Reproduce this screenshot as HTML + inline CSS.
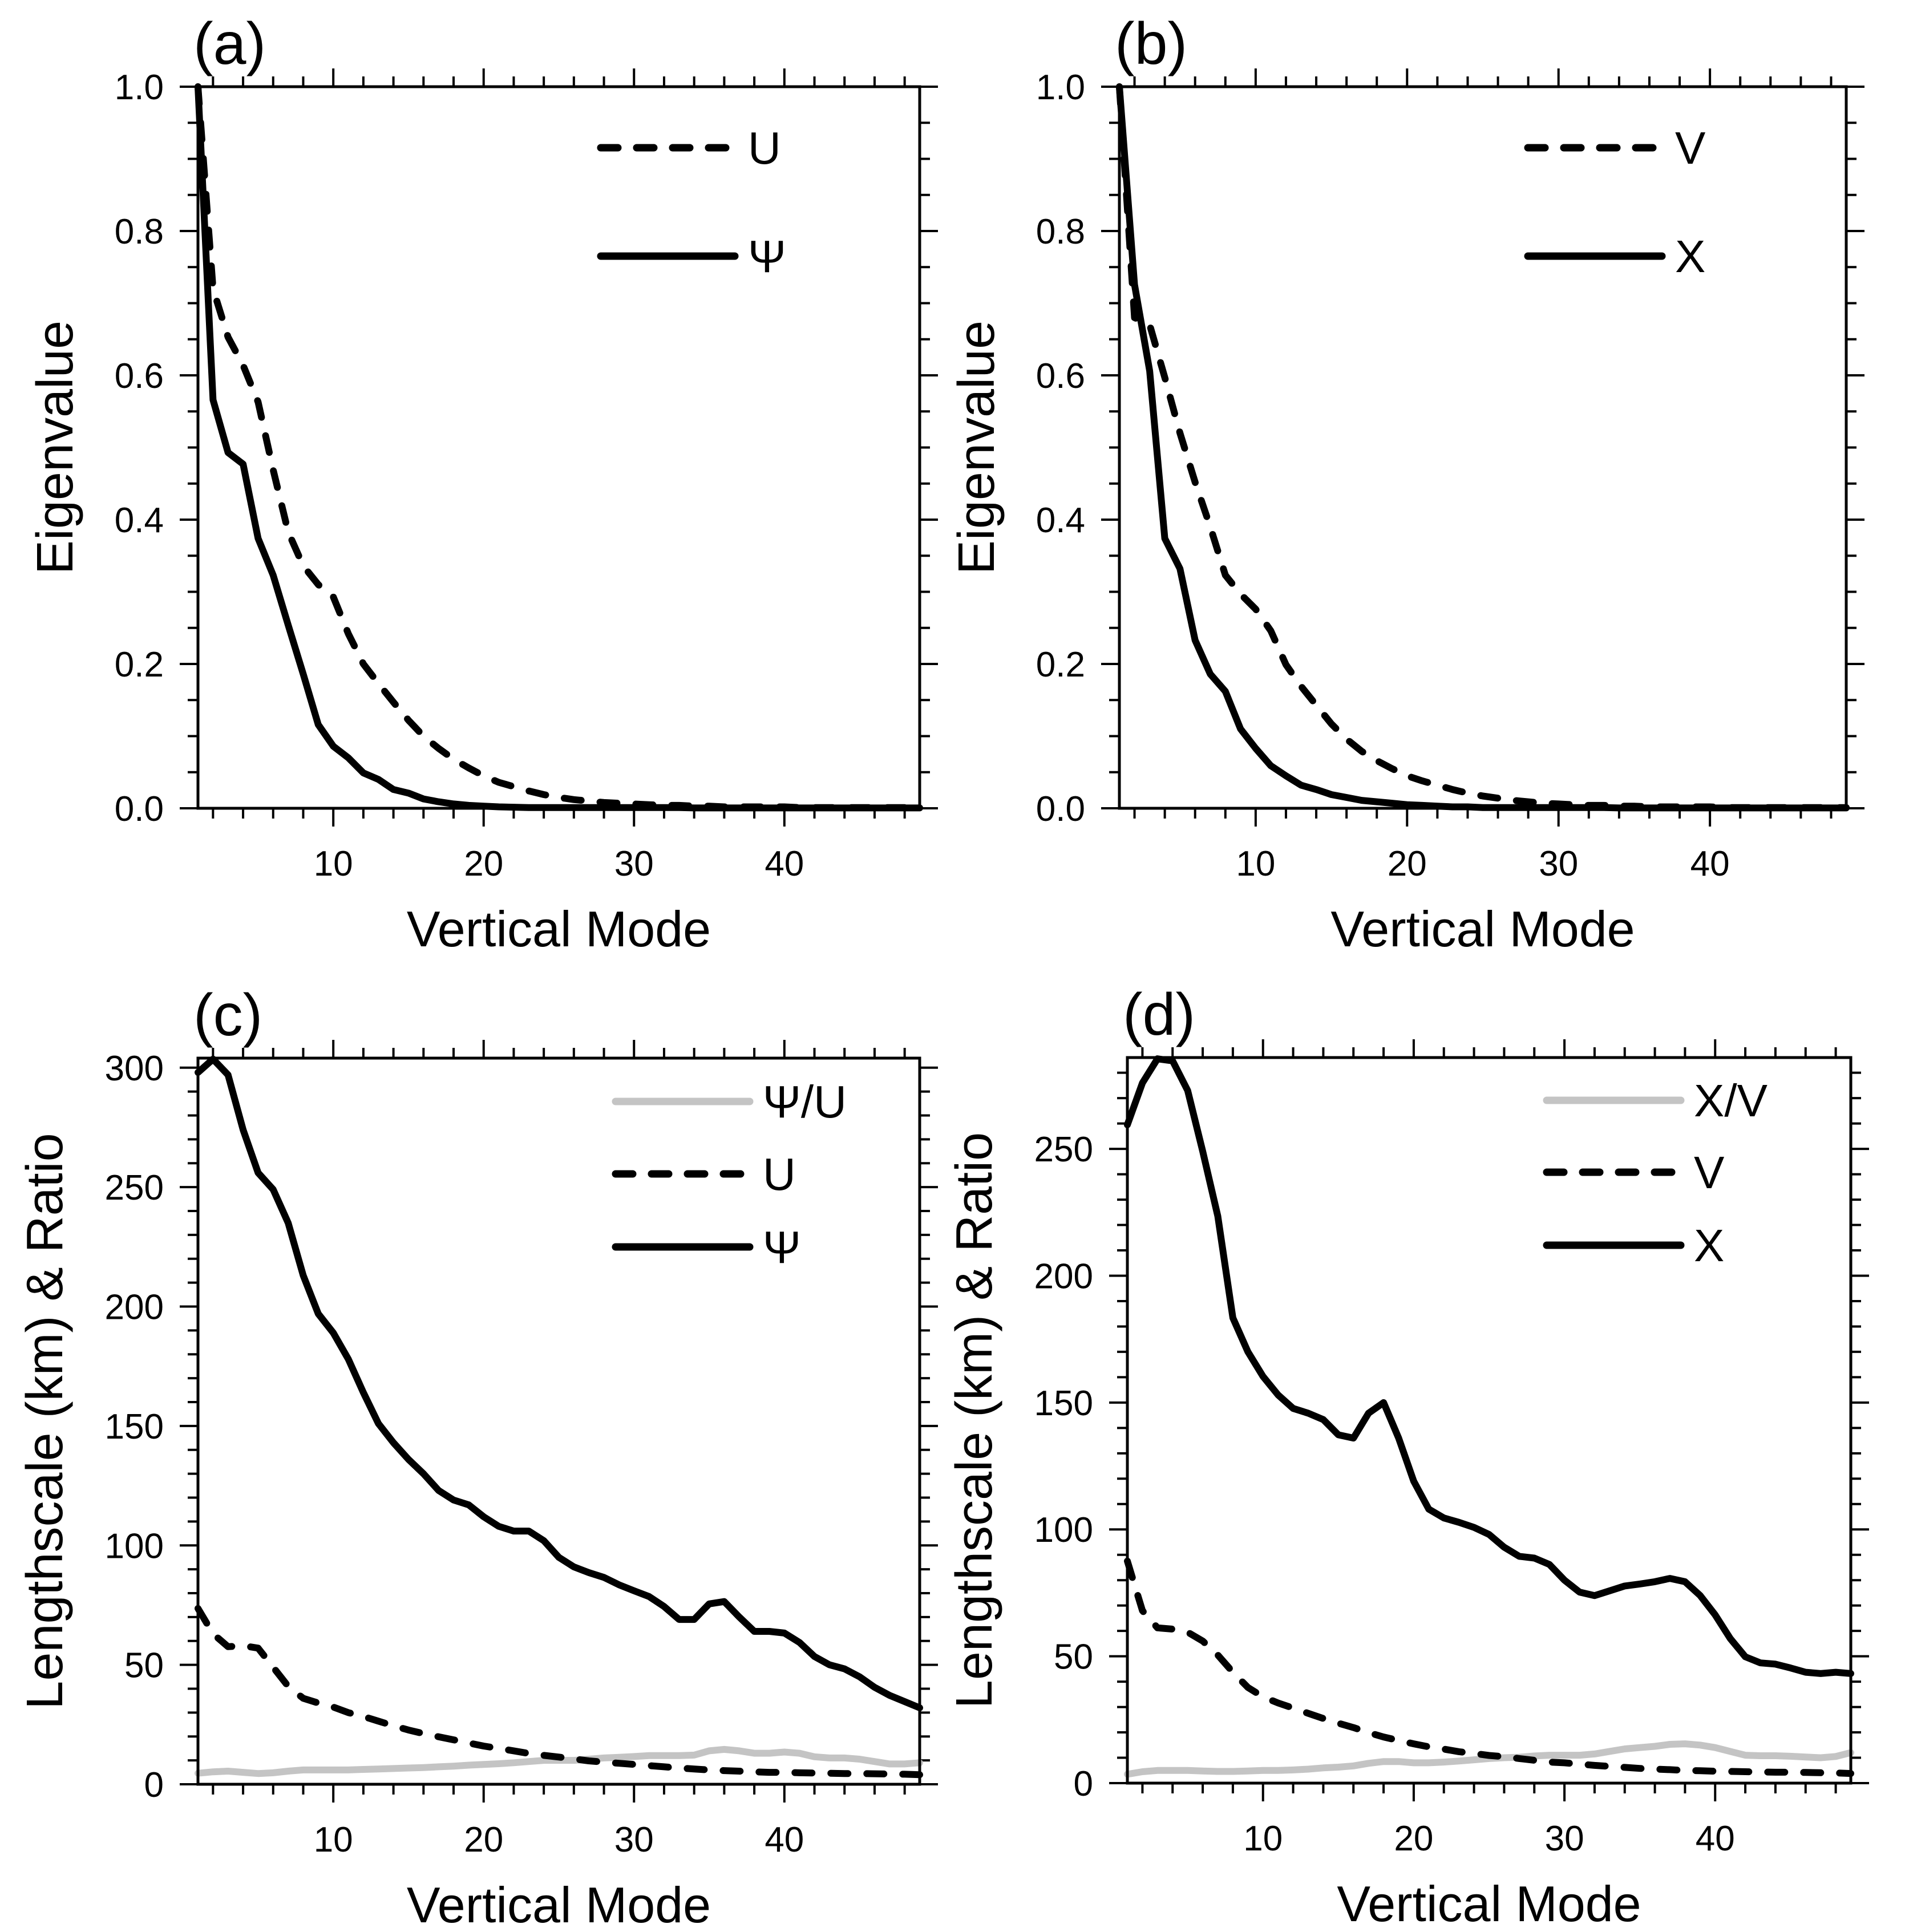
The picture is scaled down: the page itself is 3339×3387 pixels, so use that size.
<!DOCTYPE html>
<html><head><meta charset="utf-8"><style>
html,body{margin:0;padding:0;background:#fff;}
svg{display:block;font-family:"Liberation Sans",Arial,sans-serif;}
</style></head><body>
<svg id="fig" width="3339" height="3387" viewBox="0 0 3339 3387" xmlns="http://www.w3.org/2000/svg"></svg>
<script>
const modes = Array.from({length:49},(_,i)=>i+1);
const aU = [1.0,0.72,0.653,0.614,0.563,0.469,0.383,0.336,0.31,0.293,0.242,0.2,0.173,0.147,0.122,0.1,0.083,0.068,0.056,0.045,0.036,0.03,0.024,0.019,0.015,0.012,0.01,0.008,0.007,0.006,0.005,0.004,0.004,0.003,0.003,0.002,0.002,0.002,0.002,0.002,0.001,0.001,0.001,0.001,0.001,0.001,0.001,0.001,0.001];
const aPsi = [1.0,0.566,0.493,0.477,0.374,0.323,0.254,0.186,0.116,0.086,0.07,0.049,0.04,0.026,0.021,0.013,0.009,0.006,0.004,0.003,0.002,0.0015,0.001,0.001,0.001,0.001,0.001,0.001,0.001,0.001,0.001,0.001,0.001,0.0005,0.0005,0.0005,0.0005,0.0005,0.0005,0.0005,0.0005,0.0005,0.0005,0.0005,0.0005,0.0005,0.0005,0.0005,0.0005];
const bV = [1.0,0.68,0.67,0.597,0.52,0.452,0.39,0.323,0.297,0.276,0.246,0.199,0.169,0.143,0.117,0.096,0.079,0.066,0.055,0.045,0.038,0.032,0.026,0.021,0.017,0.014,0.011,0.009,0.007,0.006,0.005,0.004,0.004,0.003,0.003,0.002,0.002,0.002,0.002,0.002,0.001,0.001,0.001,0.001,0.001,0.001,0.001,0.001,0.001];
const bChi = [1.0,0.726,0.606,0.374,0.332,0.233,0.186,0.162,0.11,0.083,0.059,0.045,0.032,0.026,0.019,0.015,0.011,0.009,0.007,0.005,0.004,0.003,0.002,0.002,0.001,0.001,0.001,0.001,0.001,0.001,0.001,0.001,0.001,0.0005,0.0005,0.0005,0.0005,0.0005,0.0005,0.0005,0.0005,0.0005,0.0005,0.0005,0.0005,0.0005,0.0005,0.0005,0.0005];
const cPsi = [298,303.6,297,274,256,249,235,213,197,189,178,164,151,143,136,130,123,119,117,112,108,106,106,102,95,91,88.6,86.6,83.5,81,78.6,74.4,69,69,75.5,76.5,70,64,64,63.3,59.4,53.5,50,48.3,45,40.6,37.2,34.6,32];
const cU = [73.6,63,57.6,58,57,49,41,36,34,32.3,30,28.4,26.4,24.5,22.7,21.2,19.9,18.6,17.3,16,15,14,12.9,12.1,11.4,10.6,9.8,9.3,8.8,8.3,7.8,7.3,6.8,6.4,6,5.7,5.5,5.2,5,5,4.8,4.7,4.6,4.5,4.5,4.4,4.3,4.2,4];
const cRatio = [4.6,5.2,5.5,5,4.5,4.8,5.5,6,6,6,6,6.2,6.4,6.6,6.8,7,7.3,7.6,8,8.3,8.6,9,9.5,10,10,10,10.5,11,11.3,11.6,12,12,12,12.2,14,14.6,14,13,13,13.5,13,11.5,11,11,10.5,9.5,8.5,8.5,9];
const dChi = [259.5,276,285.5,284.7,273,249,223.5,183.4,170,160.3,153,147.7,145.8,143.3,137.3,136,145.8,150,136,119,108,104.5,102.8,100.8,98,93,89.4,88.7,86.2,80,75.3,73.9,75.8,77.7,78.5,79.4,80.7,79.4,74,66.3,57,49.8,47.4,46.9,45.4,43.7,43.2,43.7,43.2];
const dV = [87.5,68,61.2,60.7,59.5,56,50.5,43.7,37.7,34,31.6,29.6,27.5,25.5,23.6,21.9,19.9,18.2,16.8,15.5,14.3,13.4,12.4,11.7,10.9,10.4,9.7,9,8.3,8,7.5,7,6.6,6.2,5.8,5.5,5.3,5,4.9,4.7,4.6,4.5,4.4,4.3,4.3,4.2,4.1,4,3.8];
const dRatio = [3.5,4.5,5,5,5,4.8,4.6,4.6,4.8,5,5,5.2,5.5,6,6.3,6.8,7.8,8.5,8.5,8,8,8.3,8.7,9.2,9.7,10,10.2,10.7,11,11,11,11.5,12.5,13.5,14,14.5,15.3,15.5,15,14,12.5,11,10.8,10.8,10.6,10.3,10,10.5,12];
const xTicks = [10,20,30,40];
const eigTicks = ["0.0","0.2","0.4","0.6","0.8","1.0"];
const cTicks = ["0","50","100","150","200","250","300"];
const dTicks = ["0","50","100","150","200","250"];

const NS="http://www.w3.org/2000/svg";
const svg=document.getElementById('fig');
function mk(tag,attrs,parent){const e=document.createElementNS(NS,tag);for(const k in attrs)e.setAttribute(k,attrs[k]);(parent||svg).appendChild(e);return e;}

function panel(o){
  const g=mk('g',{});
  
  
  const L=o.L,R=o.R,T=o.T,B=o.B;
  const X=v=>L+(v-1)/(49-1)*(R-L);
  const Y=v=>B-(v-o.ymin)/(o.ymax-o.ymin)*(B-T);
  const tk=mk('g',{stroke:'#000','stroke-width':4},g);
  
  
  for(let v=2;v<=48;v+=2){
    const maj=v%10===0, len=maj?32:18;
    mk('line',{x1:X(v),x2:X(v),y1:B,y2:B+len},tk);
    mk('line',{x1:X(v),x2:X(v),y1:T,y2:T-len},tk);
  }
  for(let v=o.ymin;v<=o.ymax+1e-9;v+=o.minor){
    const maj=Math.abs(Math.round(v/o.major)*o.major-v)<1e-6, len=maj?32:18;
    mk('line',{x1:L,x2:L-len,y1:Y(v),y2:Y(v)},tk);
    mk('line',{x1:R,x2:R+len,y1:Y(v),y2:Y(v)},tk);
  }
  xTicks.forEach(v=>{const t=mk('text',{x:X(v),y:B+118,'font-size':62,'text-anchor':'middle'},g);t.textContent=v;
    });
  o.ticks.forEach((s,i)=>{const t=mk('text',{x:L-60,y:Y(o.ymin+i*o.major)+22,'font-size':62,'text-anchor':'end'},g);t.textContent=s;
    });
  o.series.forEach(s=>{
    const d=s.vals.map((v,i)=>(i?'L':'M')+X(modes[i]).toFixed(1)+','+Y(v).toFixed(1)).join(' ');
    const p=mk('path',{d:d,fill:'none',stroke:s.color,'stroke-width':12,'stroke-linejoin':'round','stroke-linecap':'round'},g);
    if(s.dash)p.setAttribute('stroke-dasharray','30 33');
    
    
    const lx=o.legX, ly=o.legY[s.leg];
    const lp=mk('line',{x1:lx,x2:lx+235,y1:ly,y2:ly,stroke:s.color,'stroke-width':13,'stroke-linecap':'round'},g);
    if(s.dash)lp.setAttribute('stroke-dasharray','30 33');
    
    
    const lt=mk('text',{x:lx+258,y:ly+28,'font-size':80},g);lt.textContent=s.label;
    
    
  });
  const fr=mk('rect',{x:L,y:T,width:R-L,height:B-T,fill:'none',stroke:'#000','stroke-width':5},g);
  
  
  const xt=mk('text',{x:(L+R)/2,y:B+242,'font-size':88,'text-anchor':'middle'},g);xt.textContent='Vertical Mode';
  
  const yx=L-o.ytOff, yy=(T+B)/2;
  const yt=mk('text',{x:yx,y:yy,'font-size':90,'text-anchor':'middle',transform:`rotate(-90 ${yx} ${yy})`},g);yt.textContent=o.ytitle;
  
  const pl=mk('text',{x:L-8,y:T-40,'font-size':104},g);pl.textContent=o.tag;
  
}

panel({name:'panel-a',tag:'(a)',L:347,R:1612,T:152,B:1417,ymin:0,ymax:1,major:0.2,minor:0.05,ticks:eigTicks,ytitle:'Eigenvalue',ytOff:220,
  legX:1053,legY:[259,449],series:[{id:'u',vals:aU,dash:true,color:'#000',label:'U',leg:0},{id:'psi',vals:aPsi,color:'#000',label:'Ψ',leg:1}]});
panel({name:'panel-b',tag:'(b)',L:1962,R:3236,T:152,B:1417,ymin:0,ymax:1,major:0.2,minor:0.05,ticks:eigTicks,ytitle:'Eigenvalue',ytOff:220,
  legX:2678,legY:[259,449],series:[{id:'v',vals:bV,dash:true,color:'#000',label:'V',leg:0},{id:'chi',vals:bChi,color:'#000',label:'X',leg:1}]});
panel({name:'panel-c',tag:'(c)',L:347,R:1612,T:1855,B:3128,ymin:0,ymax:304,major:50,minor:10,ticks:cTicks,ytitle:'Lengthscale (km) & Ratio',ytOff:238,
  legX:1079,legY:[1931,2058,2186],series:[{id:'ratio',vals:cRatio,color:'#c4c4c4',label:'Ψ/U',leg:0},{id:'u',vals:cU,dash:true,color:'#000',label:'U',leg:1},{id:'psi',vals:cPsi,color:'#000',label:'Ψ',leg:2}]});
panel({name:'panel-d',tag:'(d)',L:1976,R:3244,T:1854,B:3126,ymin:0,ymax:286,major:50,minor:10,ticks:dTicks,ytitle:'Lengthscale (km) & Ratio',ytOff:238,
  legX:2711,legY:[1929,2055,2183],series:[{id:'ratio',vals:dRatio,color:'#c4c4c4',label:'X/V',leg:0},{id:'v',vals:dV,dash:true,color:'#000',label:'V',leg:1},{id:'chi',vals:dChi,color:'#000',label:'X',leg:2}]});
</script>
</body></html>
